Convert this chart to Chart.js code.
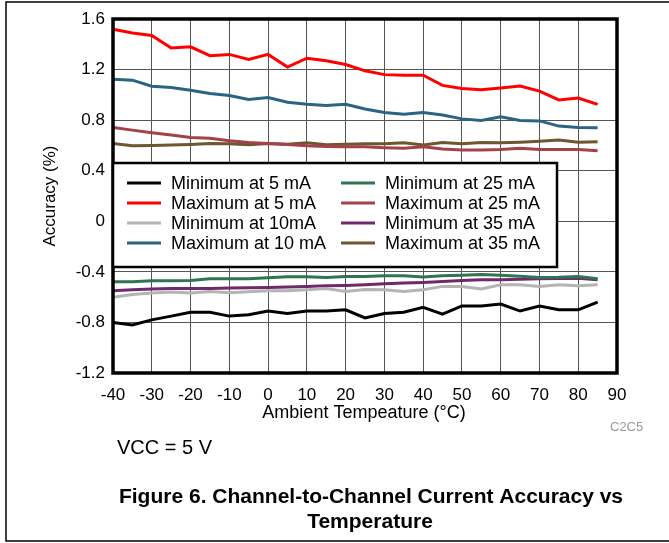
<!DOCTYPE html>
<html>
<head>
<meta charset="utf-8">
<script src="https://cdn.jsdelivr.net/npm/chart.js@4/dist/chart.umd.min.js"></script>
<style>
  body { margin: 0; background: #fff; }
  #wrap { position: relative; width: 669px; height: 543px; }
</style>
</head>
<body>
<div id="wrap"><canvas id="accChart"></canvas></div>
<script>
// temperature points (°C), one every 5 degrees
const temps = [-40, -35, -30, -25, -20, -15, -10, -5, 0, 5, 10, 15, 20, 25, 30, 35, 40, 45, 50, 55, 60, 65, 70, 75, 80, 85];
const xTicks = [-40, -30, -20, -10, 0, 10, 20, 30, 40, 50, 60, 70, 80, 90];
const yTicks = [-1.2, -0.8, -0.4, 0, 0.4, 0.8, 1.2, 1.6];

// accuracy (%) series
const min5 = [-0.80, -0.82, -0.78, -0.75, -0.72, -0.72, -0.75, -0.74, -0.71, -0.73, -0.71, -0.71, -0.70, -0.765, -0.73, -0.72, -0.68, -0.735, -0.67, -0.67, -0.655, -0.71, -0.67, -0.70, -0.70, -0.64];
const max5 = [1.52, 1.49, 1.47, 1.37, 1.38, 1.31, 1.32, 1.28, 1.32, 1.22, 1.29, 1.27, 1.24, 1.19, 1.16, 1.155, 1.155, 1.075, 1.05, 1.04, 1.055, 1.07, 1.03, 0.96, 0.975, 0.925];
const min10 = [-0.60, -0.58, -0.567, -0.56, -0.567, -0.555, -0.565, -0.557, -0.55, -0.55, -0.542, -0.531, -0.555, -0.54, -0.542, -0.555, -0.542, -0.515, -0.515, -0.536, -0.502, -0.502, -0.515, -0.502, -0.51, -0.502];
const max10 = [1.123, 1.116, 1.068, 1.058, 1.037, 1.01, 0.995, 0.963, 0.979, 0.942, 0.926, 0.916, 0.926, 0.888, 0.86, 0.847, 0.86, 0.84, 0.81, 0.797, 0.826, 0.797, 0.794, 0.753, 0.742, 0.739];
const min25 = [-0.478, -0.478, -0.47, -0.47, -0.468, -0.455, -0.455, -0.455, -0.447, -0.439, -0.439, -0.445, -0.436, -0.436, -0.431, -0.43, -0.44, -0.431, -0.426, -0.42, -0.426, -0.434, -0.445, -0.443, -0.436, -0.455];
const max25 = [0.742, 0.721, 0.70, 0.682, 0.663, 0.656, 0.637, 0.624, 0.616, 0.608, 0.597, 0.592, 0.59, 0.589, 0.582, 0.577, 0.589, 0.572, 0.563, 0.563, 0.568, 0.577, 0.568, 0.568, 0.568, 0.558];
const min35 = [-0.55, -0.542, -0.536, -0.531, -0.531, -0.531, -0.528, -0.526, -0.523, -0.52, -0.515, -0.51, -0.507, -0.502, -0.494, -0.489, -0.484, -0.476, -0.468, -0.463, -0.463, -0.458, -0.455, -0.452, -0.45, -0.463];
const max35 = [0.616, 0.597, 0.60, 0.603, 0.608, 0.616, 0.613, 0.605, 0.616, 0.61, 0.621, 0.605, 0.61, 0.613, 0.613, 0.621, 0.603, 0.624, 0.613, 0.624, 0.621, 0.626, 0.634, 0.642, 0.626, 0.629];

const seriesNames = ['Minimum at 5 mA', 'Maximum at 5 mA', 'Minimum at 10mA', 'Maximum at 10 mA',
                     'Minimum at 25 mA', 'Maximum at 25 mA', 'Minimum at 35 mA', 'Maximum at 35 mA'];
const seriesData = [min5, max5, min10, max10, min25, max25, min35, max35];
const seriesColors = ['#000000', '#ff0000', '#b4b4b4', '#2b6382', '#2f7551', '#a4424a', '#6e2a6a', '#6f5530'];

const FONT = "'Liberation Sans', Arial, sans-serif";

const datasets = seriesData.map((vals, i) => ({
    label: seriesNames[i],
    data: temps.map((t, j) => ({x: t, y: vals[j]})),
    borderColor: seriesColors[i],
    backgroundColor: seriesColors[i],
    borderWidth: 3,
    pointRadius: 0,
    tension: 0
}));

// frame, inner legend box and the page texts
const decorations = {
    id: 'decorations',
    afterDraw(chart) {
        const {ctx, chartArea: a} = chart;
        ctx.save();

        // plot frame
        ctx.strokeStyle = '#000';
        ctx.lineWidth = 3.5;
        ctx.strokeRect(a.left, a.top, a.right - a.left, a.bottom - a.top);

        // legend box inside plot
        const lx = a.left, ly = 163, lw = 444, lh = 104;
        ctx.fillStyle = '#fff';
        ctx.fillRect(lx, ly, lw, lh);
        ctx.lineWidth = 2.5;
        ctx.strokeRect(lx, ly, lw, lh);
        ctx.font = '18px ' + FONT;
        ctx.textBaseline = 'middle';
        ctx.textAlign = 'left';
        chart.data.datasets.forEach((ds, i) => {
            const col = i < 4 ? 0 : 1;
            const row = i % 4;
            const sx = lx + 14 + col * 214;
            const sy = ly + 20 + row * 20;
            ctx.strokeStyle = ds.borderColor;
            ctx.lineWidth = 3;
            ctx.beginPath();
            ctx.moveTo(sx, sy);
            ctx.lineTo(sx + 34, sy);
            ctx.stroke();
            ctx.fillStyle = '#000';
            ctx.fillText(ds.label, sx + 44, sy + 1);
        });

        // axis titles
        ctx.fillStyle = '#000';
        ctx.font = '18px ' + FONT;
        ctx.textAlign = 'center';
        ctx.fillText('Ambient Tempeature (°C)', 364, 413);
        ctx.save();
        ctx.translate(50, (a.top + a.bottom) / 2);
        ctx.rotate(-Math.PI / 2);
        ctx.font = '17px ' + FONT;
        ctx.fillText('Accuracy (%)', 0, 0);
        ctx.restore();

        ctx.fillStyle = '#999';
        ctx.font = '13px ' + FONT;
        ctx.textAlign = 'left';
        ctx.fillText('C2C5', 610, 427);

        ctx.fillStyle = '#000';
        ctx.font = '20px ' + FONT;
        ctx.fillText('VCC = 5 V', 117, 448);

        ctx.font = 'bold 21px ' + FONT;
        ctx.textAlign = 'center';
        ctx.fillText('Figure 6. Channel-to-Channel Current Accuracy vs', 371, 497);
        ctx.fillText('Temperature', 370, 522);

        // page frame
        ctx.strokeStyle = '#000';
        ctx.lineWidth = 1.5;
        ctx.beginPath();
        ctx.moveTo(669, 2);
        ctx.lineTo(6, 2);
        ctx.lineTo(6, 541);
        ctx.lineTo(669, 541);
        ctx.stroke();

        ctx.restore();
    }
};

const ctx = document.getElementById('accChart').getContext('2d');
const accChart = new Chart(ctx, {
    type: 'line',
    data: {datasets: datasets},
    plugins: [decorations],
    options: {
        responsive: true,
        maintainAspectRatio: false,
        animation: false,
        layout: {padding: {top: 19, right: 52, bottom: 0, left: 0}},
        plugins: {
            legend: {display: false},
            tooltip: {enabled: false}
        },
        scales: {
            x: {
                type: 'linear',
                min: -40,
                max: 90,
                afterFit: (s) => { s.height = 170; },
                afterBuildTicks: (s) => { s.ticks = xTicks.map(v => ({value: v})); },
                grid: {color: '#555', lineWidth: 1, drawTicks: false},
                border: {display: false},
                ticks: {
                    color: '#000',
                    padding: 12,
                    maxRotation: 0,
                    autoSkip: false,
                    font: {family: FONT, size: 17},
                    callback: (v) => String(v)
                }
            },
            y: {
                type: 'linear',
                min: -1.2,
                max: 1.6,
                afterFit: (s) => { s.width = 113; },
                afterBuildTicks: (s) => { s.ticks = yTicks.map(v => ({value: v})); },
                grid: {color: '#555', lineWidth: 1, drawTicks: false},
                border: {display: false},
                ticks: {
                    color: '#000',
                    padding: 8,
                    autoSkip: false,
                    font: {family: FONT, size: 17},
                    callback: (v) => String(Number(v.toFixed(1)))
                }
            }
        }
    }
});
</script>
</body>
</html>
